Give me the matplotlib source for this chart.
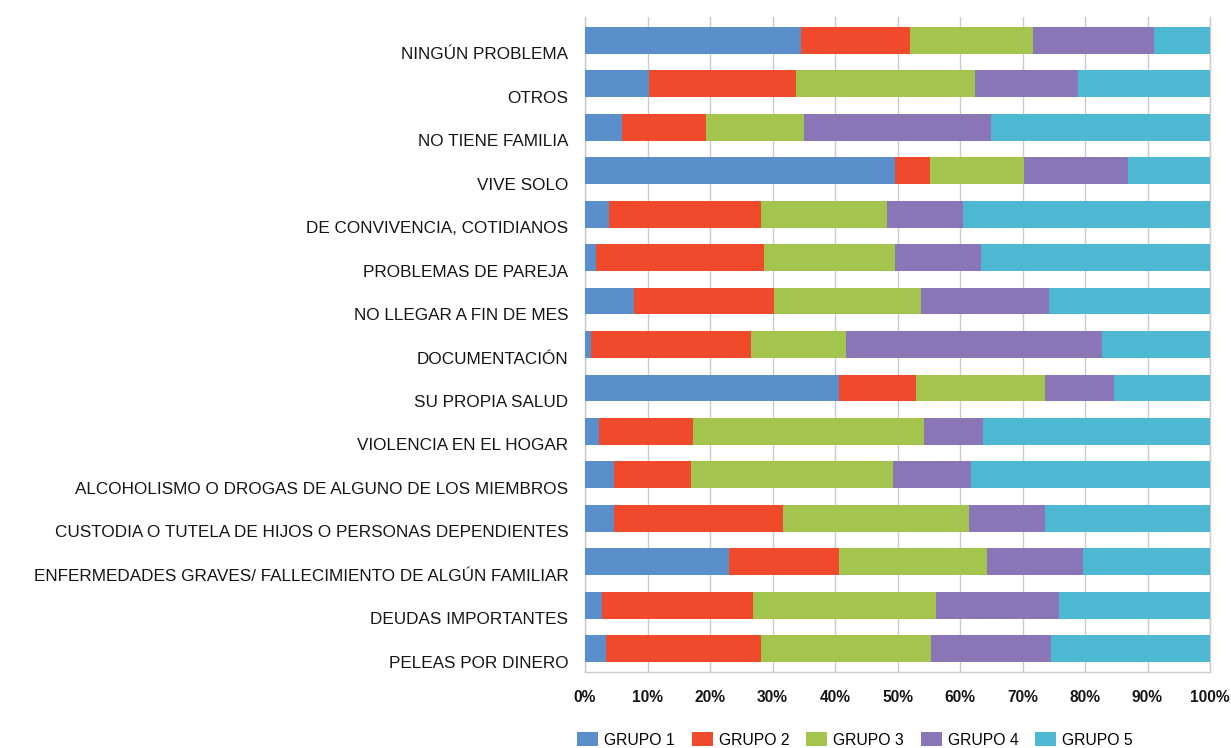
import matplotlib
matplotlib.use("Agg")
import matplotlib.pyplot as plt
import matplotlib.transforms as mtransforms
import numpy as np

categories = [
    "NINGÚN PROBLEMA",
    "OTROS",
    "NO TIENE FAMILIA",
    "VIVE SOLO",
    "DE CONVIVENCIA, COTIDIANOS",
    "PROBLEMAS DE PAREJA",
    "NO LLEGAR A FIN DE MES",
    "DOCUMENTACIÓN",
    "SU PROPIA SALUD",
    "VIOLENCIA EN EL HOGAR",
    "ALCOHOLISMO O DROGAS DE ALGUNO DE LOS MIEMBROS",
    "CUSTODIA O TUTELA DE HIJOS O PERSONAS DEPENDIENTES",
    "ENFERMEDADES GRAVES/ FALLECIMIENTO DE ALGÚN FAMILIAR",
    "DEUDAS IMPORTANTES",
    "PELEAS POR DINERO",
]

grupo1 = [34.6, 10.3, 5.9, 49.6, 3.8, 1.8, 7.8, 1.0, 40.7, 2.3, 4.6, 4.6, 23.0, 2.7, 3.3]
grupo2 = [17.4, 23.5, 13.4, 5.6, 24.3, 26.9, 22.5, 25.6, 12.3, 15.0, 12.3, 27.1, 17.6, 24.1, 24.9]
grupo3 = [19.7, 28.6, 15.7, 15.0, 20.2, 20.9, 23.5, 15.2, 20.6, 36.9, 32.3, 29.7, 23.7, 29.3, 27.2]
grupo4 = [19.3, 16.4, 30.0, 16.7, 12.1, 13.7, 20.4, 40.9, 11.0, 9.4, 12.6, 12.2, 15.4, 19.7, 19.2]
grupo5 = [9.0, 21.2, 35.0, 13.1, 39.6, 36.7, 25.8, 17.3, 15.4, 36.4, 38.2, 26.4, 20.3, 24.2, 25.4]

series_names = ["GRUPO 1", "GRUPO 2", "GRUPO 3", "GRUPO 4", "GRUPO 5"]
tick_labels = ["0%", "10%", "20%", "30%", "40%", "50%", "60%", "70%", "80%", "90%", "100%"]

colors = ["#5B8FCB", "#EE4A2B", "#A3C54D", "#8A75B6", "#4DB8D1"]

plt.rcParams['font.family'] = ['Liberation Sans', 'DejaVu Sans']

fig = plt.figure(figsize=(12.31, 7.48), dpi=100)
ax = fig.add_axes([585/1231, 1 - 672/748, 625/1231, (672 - 17)/748])

data = np.array([grupo1, grupo2, grupo3, grupo4, grupo5])
data = data / data.sum(axis=0) * 100
y = np.arange(len(categories))
left = np.zeros(len(categories))
for vals, name, c in zip(data, series_names, colors):
    ax.barh(y, vals, left=left, height=0.62, color=c, label=name, zorder=3)
    left += vals

ax.set_ylim(len(categories) - 0.47, -0.53)
ax.set_xlim(0, 100)
ax.set_yticks(y)
ax.set_yticklabels(categories, fontsize=12.3, color="#151515")
ax.set_xticks(np.arange(0, 101, 10))
ax.set_xticklabels(tick_labels, fontsize=11.2, fontweight="bold", color="#151515")
ax.tick_params(axis="both", length=0)
ax.tick_params(axis="y", pad=12)
ax.tick_params(axis="x", pad=13)
offset = mtransforms.ScaledTranslation(0, -13/100, fig.dpi_scale_trans)
for lab in ax.get_yticklabels():
    lab.set_transform(lab.get_transform() + offset)
ax.grid(axis="x", color="#CBCBCB", linewidth=1.0, zorder=0)
ax.spines["top"].set_visible(False)
for s in ["left", "right", "bottom"]:
    ax.spines[s].set_color("#CBCBCB")
    ax.spines[s].set_linewidth(1.0)

fig.legend(loc="center left", bbox_to_anchor=(577/1231, 1 - 740/748), ncol=5,
           frameon=False, fontsize=11.3, handlelength=1.34, handleheight=0.95,
           handletextpad=0.38, columnspacing=1.08, borderaxespad=0, borderpad=0)

fig.savefig("out.png", dpi=100, facecolor="white")
